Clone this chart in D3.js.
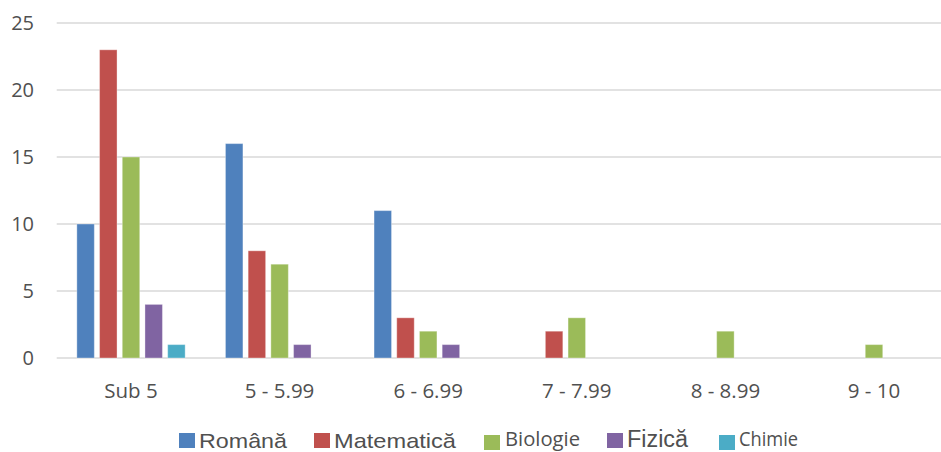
<!DOCTYPE html>
<html>
<head>
<meta charset="utf-8">
<script src="https://cdn.jsdelivr.net/npm/d3@7"></script>
<style>
  html, body { margin: 0; padding: 0; background: #fff; }
  svg { display: block; }
</style>
</head>
<body>
<svg id="chart" width="941" height="452"></svg>
<script>
const categories = ["Sub 5", "5 - 5.99", "6 - 6.99", "7 - 7.99", "8 - 8.99", "9 - 10"];
const seriesNames = ["Română", "Matematică", "Biologie", "Fizică", "Chimie"];
const romana     = [10, 16, 11, 0, 0, 0];
const matematica = [23, 8, 3, 2, 0, 0];
const biologie   = [15, 7, 2, 3, 2, 1];
const fizica     = [4, 1, 1, 0, 0, 0];
const chimie     = [1, 0, 0, 0, 0, 0];
const yTicks = [0, 5, 10, 15, 20, 25];

const seriesValues = [romana, matematica, biologie, fizica, chimie];
const colors = ["#4F81BD", "#C0504D", "#9BBB59", "#8064A2", "#4BACC6"];

const svg = d3.select("#chart");
const plotLeft = 56.7, plotRight = 948.3, plotTop = 23, plotBottom = 358;

const y = d3.scaleLinear().domain([0, 25]).range([plotBottom, plotTop]);
const x0 = d3.scaleBand().domain(categories).range([plotLeft, plotRight])
  .paddingInner(0.236).paddingOuter(0.118);
const x1 = d3.scaleBand().domain(seriesNames).range([0, x0.bandwidth()])
  .paddingInner(0.23).paddingOuter(0.115);

// gridlines
svg.append("g").selectAll("line").data(yTicks).join("line")
  .attr("x1", plotLeft).attr("x2", 941)
  .attr("y1", d => y(d)).attr("y2", d => y(d))
  .attr("stroke", "#d9d9d9").attr("stroke-width", 1.5);

// y labels
svg.append("g").selectAll("text").data(yTicks).join("text")
  .attr("x", 34).attr("y", d => y(d))
  .attr("dy", "0.36em")
  .attr("text-anchor", "end")
  .attr("font-family", "'Open Sans', sans-serif")
  .attr("font-size", 20)
  .attr("fill", "#505050")
  .text(d => d);

// bars
const groups = svg.append("g").selectAll("g").data(categories).join("g")
  .attr("transform", d => `translate(${x0(d)},0)`);
groups.selectAll("rect")
  .data((c, ci) => seriesNames.map((s, si) => ({ s, si, v: seriesValues[si][ci] })).filter(d => d.v > 0))
  .join("rect")
  .attr("x", d => x1(d.s))
  .attr("width", x1.bandwidth())
  .attr("y", d => y(d.v))
  .attr("height", d => y(0) - y(d.v))
  .attr("fill", d => colors[d.si])
  .attr("stroke", "#ffffff").attr("stroke-opacity", 0.35).attr("stroke-width", 1);

// x labels
svg.append("g").selectAll("text").data(categories).join("text")
  .attr("x", d => x0(d) + x0.bandwidth() / 2)
  .attr("y", 397.5)
  .attr("text-anchor", "middle")
  .attr("font-family", "'Open Sans', sans-serif")
  .attr("font-size", 20.5)
  .attr("fill", "#505050")
  .text(d => d);

// legend
const legendItems = [
  { name: seriesNames[0], sx: 179, sy: 433, tx: 199, ty: 447.5, font: "'Liberation Sans', Arial, sans-serif", size: 21, len: 88 },
  { name: seriesNames[1], sx: 314, sy: 433, tx: 334, ty: 447.5, font: "'Liberation Sans', Arial, sans-serif", size: 21, len: 122 },
  { name: seriesNames[2], sx: 484, sy: 435, tx: 505, ty: 446, font: "'Open Sans', sans-serif", size: 20, len: 75 },
  { name: seriesNames[3], sx: 607, sy: 433, tx: 627, ty: 446.5, font: "'Liberation Sans', Arial, sans-serif", size: 23, len: 61 },
  { name: seriesNames[4], sx: 719, sy: 435, tx: 739, ty: 446, font: "'Open Sans', sans-serif", size: 20, len: 59 }
];
const lg = svg.append("g").selectAll("g").data(legendItems).join("g");
lg.append("rect")
  .attr("x", d => d.sx).attr("y", d => d.sy)
  .attr("width", 16).attr("height", 15)
  .attr("fill", (d, i) => colors[i]);
lg.append("text")
  .attr("x", d => d.tx).attr("y", d => d.ty)
  .attr("font-family", d => d.font)
  .attr("font-size", d => d.size)
  .attr("textLength", d => d.len)
  .attr("lengthAdjust", "spacingAndGlyphs")
  .attr("fill", "#505050")
  .text(d => d.name);
</script>
</body>
</html>
